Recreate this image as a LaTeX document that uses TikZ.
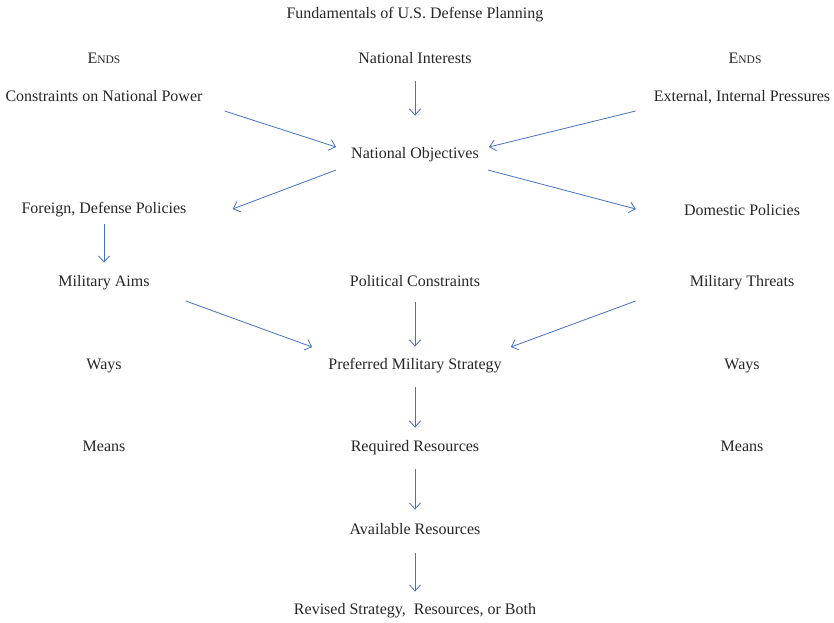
\documentclass[tikz,border=0pt]{standalone}
\usepackage{fontspec}
\setmainfont{Liberation Serif}
\usetikzlibrary{arrows.meta,calc}
\definecolor{arrowblue}{RGB}{68,114,196}
\newcommand{\goalsword}{E{\fontsize{11.5}{13}\selectfont NDS}}
\begin{document}
\begin{tikzpicture}[x=1pt,y=-1pt,
  lbl/.style={inner sep=0pt,text height=11pt,text depth=3.5pt,yshift=-2pt,
    font=\fontsize{16}{19}\selectfont,text=black!85},
  arr/.style={draw=arrowblue,line width=0.8pt,-{Straight Barb[length=6pt,width=11pt]}}]
\useasboundingbox (0,0) rectangle (834,622);
% heading
\node[lbl] (title) at (415,13) {Fundamentals of U.S. Defense Planning};
% ends row
\node[lbl] (endsl) at (104,58) {\goalsword};
\node[lbl] (endsr) at (745,58) {\goalsword};
\node[lbl] (ni) at (415,58) {National Interests};
\node[lbl] (cnp) at (104,96) {Constraints on National Power};
\node[lbl] (eip) at (742,96) {External, Internal Pressures};
\node[lbl] (no) at (415,153) {National Objectives};
\node[lbl] (fdp) at (104,208) {Foreign, Defense Policies};
\node[lbl] (dp) at (742,210) {Domestic Policies};
\node[lbl] (ma) at (104,281) {Military Aims};
\node[lbl] (pc) at (415,281) {Political Constraints};
\node[lbl] (mt) at (742,281) {Military Threats};
\node[lbl] (waysl) at (104,364) {Ways};
\node[lbl] (pms) at (415,364) {Preferred Military Strategy};
\node[lbl] (waysr) at (742,364) {Ways};
\node[lbl] (meansl) at (104,446) {Means};
\node[lbl] (rr) at (415,446) {Required Resources};
\node[lbl] (meansr) at (742,446) {Means};
\node[lbl] (ar) at (415,529) {Available Resources};
\node[lbl] (rev) at (415,609) {Revised Strategy,\ \ Resources, or Both};
% connectors
\draw[arr] ($(ni.south)+(0,14)$) -- ($(no.north)+(0,-32)$);
\draw[arr] ($(cnp.east)+(22,13)$) -- ($(no.west)+(-15,-8)$);
\draw[arr] ($(eip.west)+(-18,13)$) -- ($(no.east)+(10,-8)$);
\draw[arr] ($(no.west)+(-15,15)$) -- ($(fdp.east)+(46,-1)$);
\draw[arr] ($(no.east)+(9,15)$) -- ($(dp.west)+(-48,-3)$);
\draw[arr] ($(fdp.south)+(0,7)$) -- ($(ma.north)+(0,-13)$);
\draw[arr] ($(ma.east)+(36,18)$) -- ($(pms.west)+(-16,-19)$);
\draw[arr] ($(pc.south)+(0,12)$) -- ($(pms.north)+(0,-12)$);
\draw[arr] ($(mt.west)+(-54,18)$) -- ($(pms.east)+(9,-19)$);
\draw[arr] ($(pms.south)+(0,14)$) -- ($(rr.north)+(0,-13)$);
\draw[arr] ($(rr.south)+(0,14)$) -- ($(ar.north)+(0,-14)$);
\draw[arr] ($(ar.south)+(0,15)$) -- ($(rev.north)+(0,-12)$);
\end{tikzpicture}
\end{document}
